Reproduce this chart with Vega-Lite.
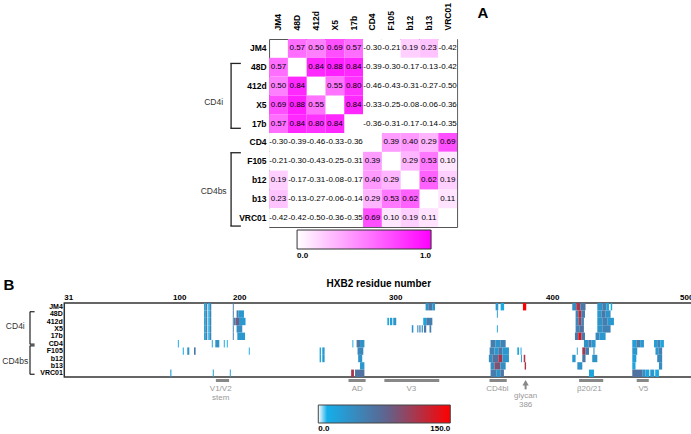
{
  "$schema": "https://vega.github.io/schema/vega-lite/v6.json",
  "padding": {"left": 1, "top": 2, "right": 0, "bottom": 0},
  "background": "#ffffff",
  "config": {
    "font": "Liberation Sans",
    "locale": {"number": {"decimal": ".", "thousands": ",", "grouping": [3], "currency": ["$", ""], "minus": "-"}},
    "axis": {"grid": false, "ticks": false, "domain": false, "labelColor": "#000000", "labelFontWeight": "bold", "labelFontSize": 8}
  },
  "center": true,
  "spacing": 15,
  "resolve": {"scale": {"color": "independent", "x": "independent", "y": "independent"}},
  "datasets": {
    "corr": [
      {"r":"JM4","c":"48D","v":0.57},{"r":"JM4","c":"412d","v":0.50},{"r":"JM4","c":"X5","v":0.69},{"r":"JM4","c":"17b","v":0.57},{"r":"JM4","c":"CD4","v":-0.30},{"r":"JM4","c":"F105","v":-0.21},{"r":"JM4","c":"b12","v":0.19},{"r":"JM4","c":"b13","v":0.23},{"r":"JM4","c":"VRC01","v":-0.42},
      {"r":"48D","c":"JM4","v":0.57},{"r":"48D","c":"412d","v":0.84},{"r":"48D","c":"X5","v":0.88},{"r":"48D","c":"17b","v":0.84},{"r":"48D","c":"CD4","v":-0.39},{"r":"48D","c":"F105","v":-0.30},{"r":"48D","c":"b12","v":-0.17},{"r":"48D","c":"b13","v":-0.13},{"r":"48D","c":"VRC01","v":-0.42},
      {"r":"412d","c":"JM4","v":0.50},{"r":"412d","c":"48D","v":0.84},{"r":"412d","c":"X5","v":0.55},{"r":"412d","c":"17b","v":0.80},{"r":"412d","c":"CD4","v":-0.46},{"r":"412d","c":"F105","v":-0.43},{"r":"412d","c":"b12","v":-0.31},{"r":"412d","c":"b13","v":-0.27},{"r":"412d","c":"VRC01","v":-0.50},
      {"r":"X5","c":"JM4","v":0.69},{"r":"X5","c":"48D","v":0.88},{"r":"X5","c":"412d","v":0.55},{"r":"X5","c":"17b","v":0.84},{"r":"X5","c":"CD4","v":-0.33},{"r":"X5","c":"F105","v":-0.25},{"r":"X5","c":"b12","v":-0.08},{"r":"X5","c":"b13","v":-0.06},{"r":"X5","c":"VRC01","v":-0.36},
      {"r":"17b","c":"JM4","v":0.57},{"r":"17b","c":"48D","v":0.84},{"r":"17b","c":"412d","v":0.80},{"r":"17b","c":"X5","v":0.84},{"r":"17b","c":"CD4","v":-0.36},{"r":"17b","c":"F105","v":-0.31},{"r":"17b","c":"b12","v":-0.17},{"r":"17b","c":"b13","v":-0.14},{"r":"17b","c":"VRC01","v":-0.35},
      {"r":"CD4","c":"JM4","v":-0.30},{"r":"CD4","c":"48D","v":-0.39},{"r":"CD4","c":"412d","v":-0.46},{"r":"CD4","c":"X5","v":-0.33},{"r":"CD4","c":"17b","v":-0.36},{"r":"CD4","c":"F105","v":0.39},{"r":"CD4","c":"b12","v":0.40},{"r":"CD4","c":"b13","v":0.29},{"r":"CD4","c":"VRC01","v":0.69},
      {"r":"F105","c":"JM4","v":-0.21},{"r":"F105","c":"48D","v":-0.30},{"r":"F105","c":"412d","v":-0.43},{"r":"F105","c":"X5","v":-0.25},{"r":"F105","c":"17b","v":-0.31},{"r":"F105","c":"CD4","v":0.39},{"r":"F105","c":"b12","v":0.29},{"r":"F105","c":"b13","v":0.53},{"r":"F105","c":"VRC01","v":0.10},
      {"r":"b12","c":"JM4","v":0.19},{"r":"b12","c":"48D","v":-0.17},{"r":"b12","c":"412d","v":-0.31},{"r":"b12","c":"X5","v":-0.08},{"r":"b12","c":"17b","v":-0.17},{"r":"b12","c":"CD4","v":0.40},{"r":"b12","c":"F105","v":0.29},{"r":"b12","c":"b13","v":0.62},{"r":"b12","c":"VRC01","v":0.19},
      {"r":"b13","c":"JM4","v":0.23},{"r":"b13","c":"48D","v":-0.13},{"r":"b13","c":"412d","v":-0.27},{"r":"b13","c":"X5","v":-0.06},{"r":"b13","c":"17b","v":-0.14},{"r":"b13","c":"CD4","v":0.29},{"r":"b13","c":"F105","v":0.53},{"r":"b13","c":"b12","v":0.62},{"r":"b13","c":"VRC01","v":0.11},
      {"r":"VRC01","c":"JM4","v":-0.42},{"r":"VRC01","c":"48D","v":-0.42},{"r":"VRC01","c":"412d","v":-0.50},{"r":"VRC01","c":"X5","v":-0.36},{"r":"VRC01","c":"17b","v":-0.35},{"r":"VRC01","c":"CD4","v":0.69},{"r":"VRC01","c":"F105","v":0.10},{"r":"VRC01","c":"b12","v":0.19},{"r":"VRC01","c":"b13","v":0.11}
    ],
    "brA": [
      {"g":"CD4i","y1":1.3,"y2":4.75,"ly":3.35},
      {"g":"CD4bs","y1":6.05,"y2":9.95,"ly":8.1}
    ],
    "brB": [
      {"g":"CD4i","y1":1.18,"y2":5.56,"ly":3.08},
      {"g":"CD4bs","y1":5.79,"y2":9.63,"ly":7.83}
    ],
    "ann": [
      {"l1":"V1/V2","s":161,"e":183,"m":169},
      {"l1":"AD","s":270,"e":281,"m":275.6},
      {"l1":"V3","s":293,"e":328,"m":310.2},
      {"l1":"CD4bl","s":360,"e":371,"m":365},
      {"l1":"β20/21","s":420,"e":438,"m":427.6},
      {"l1":"V5","s":463,"e":472,"m":467.9}
    ],
    "res": [
      {"ab":"JM4","s":141.2,"e":143.3,"v":15},{"ab":"JM4","s":143.3,"e":146.7,"v":50},{"ab":"JM4","s":148.3,"e":150.8,"v":15},{"ab":"JM4","s":150.8,"e":153.3,"v":50},{"ab":"JM4","s":189.2,"e":190.8,"v":55},
      {"ab":"48D","s":141.2,"e":143.3,"v":15},{"ab":"48D","s":143.3,"e":146.7,"v":50},{"ab":"48D","s":148.3,"e":150.8,"v":15},{"ab":"48D","s":150.8,"e":153.3,"v":50},{"ab":"48D","s":189.2,"e":190.8,"v":55},
      {"ab":"412d","s":141.2,"e":143.3,"v":15},{"ab":"412d","s":143.3,"e":146.7,"v":50},{"ab":"412d","s":148.3,"e":150.8,"v":15},{"ab":"412d","s":150.8,"e":153.3,"v":50},{"ab":"412d","s":189.2,"e":190.8,"v":55},
      {"ab":"X5","s":141.2,"e":143.3,"v":15},{"ab":"X5","s":143.3,"e":146.7,"v":50},{"ab":"X5","s":148.3,"e":150.8,"v":15},{"ab":"X5","s":150.8,"e":153.3,"v":50},{"ab":"X5","s":189.2,"e":190.8,"v":55},
      {"ab":"17b","s":141.2,"e":143.3,"v":15},{"ab":"17b","s":143.3,"e":146.7,"v":50},{"ab":"17b","s":148.3,"e":150.8,"v":15},{"ab":"17b","s":150.8,"e":153.3,"v":50},{"ab":"17b","s":189.2,"e":190.8,"v":55},
      {"ab":"JM4","s":319.3,"e":321.0,"v":35},{"ab":"JM4","s":321.0,"e":323.6,"v":60},{"ab":"JM4","s":323.6,"e":325.3,"v":30},{"ab":"JM4","s":363.9,"e":365.6,"v":30},{"ab":"JM4","s":367.1,"e":369.3,"v":15},{"ab":"JM4","s":381.3,"e":383.4,"v":150},{"ab":"JM4","s":414.9,"e":417.9,"v":40},{"ab":"JM4","s":417.9,"e":420.9,"v":110},{"ab":"JM4","s":420.9,"e":424.8,"v":60},{"ab":"JM4","s":433.6,"e":437.3,"v":35},{"ab":"JM4","s":437.3,"e":440.3,"v":55},{"ab":"JM4","s":440.3,"e":442.3,"v":20},{"ab":"JM4","s":443.6,"e":444.7,"v":15},
      {"ab":"48D","s":195.5,"e":198.3,"v":60},{"ab":"48D","s":198.3,"e":203.0,"v":30},{"ab":"48D","s":364.7,"e":365.3,"v":30},{"ab":"48D","s":417.4,"e":419.4,"v":50},{"ab":"48D","s":419.4,"e":421.6,"v":120},{"ab":"48D","s":421.6,"e":424.4,"v":55},{"ab":"48D","s":433.6,"e":436.6,"v":30},{"ab":"48D","s":436.6,"e":439.5,"v":60},{"ab":"48D","s":439.5,"e":443.5,"v":35},
      {"ab":"412d","s":191.2,"e":193.8,"v":50},{"ab":"412d","s":193.8,"e":199.5,"v":85},{"ab":"412d","s":199.5,"e":204.0,"v":30},{"ab":"412d","s":294.9,"e":296.0,"v":15},{"ab":"412d","s":296.6,"e":298.1,"v":25},{"ab":"412d","s":298.7,"e":300.6,"v":35},{"ab":"412d","s":317.8,"e":319.7,"v":20},{"ab":"412d","s":319.7,"e":323.6,"v":55},{"ab":"412d","s":417.4,"e":419.4,"v":45},{"ab":"412d","s":419.4,"e":421.6,"v":100},{"ab":"412d","s":421.6,"e":423.6,"v":50},{"ab":"412d","s":433.6,"e":437.3,"v":35},{"ab":"412d","s":437.3,"e":441.0,"v":55},{"ab":"412d","s":441.0,"e":446.0,"v":30},
      {"ab":"X5","s":195.5,"e":201.9,"v":40},{"ab":"X5","s":310.5,"e":311.5,"v":35},{"ab":"X5","s":314.0,"e":314.7,"v":40},{"ab":"X5","s":315.3,"e":316.1,"v":55},{"ab":"X5","s":316.8,"e":317.6,"v":30},{"ab":"X5","s":318.3,"e":319.7,"v":60},{"ab":"X5","s":321.8,"e":322.9,"v":55},{"ab":"X5","s":364.7,"e":365.3,"v":25},{"ab":"X5","s":417.4,"e":420.1,"v":50},{"ab":"X5","s":420.1,"e":423.6,"v":65},{"ab":"X5","s":433.6,"e":437.3,"v":35},{"ab":"X5","s":437.3,"e":443.5,"v":50},
      {"ab":"17b","s":196.7,"e":203.7,"v":30},{"ab":"17b","s":416.9,"e":419.4,"v":60},{"ab":"17b","s":419.4,"e":421.6,"v":140},{"ab":"17b","s":421.6,"e":424.4,"v":60},{"ab":"17b","s":432.3,"e":435.1,"v":45},{"ab":"17b","s":435.1,"e":439.8,"v":30},
      {"ab":"CD4","s":99.1,"e":99.7,"v":12},{"ab":"CD4","s":154.2,"e":155.8,"v":20},{"ab":"CD4","s":160.0,"e":166.7,"v":35},{"ab":"CD4","s":174.2,"e":175.8,"v":15},{"ab":"CD4","s":179.2,"e":180.8,"v":12},{"ab":"CD4","s":272.5,"e":273.1,"v":15},{"ab":"CD4","s":275.2,"e":277.4,"v":60},{"ab":"CD4","s":277.4,"e":280.2,"v":35},{"ab":"CD4","s":360.7,"e":363.7,"v":55},{"ab":"CD4","s":363.7,"e":366.9,"v":35},{"ab":"CD4","s":366.9,"e":370.3,"v":50},{"ab":"CD4","s":423.6,"e":426.9,"v":35},{"ab":"CD4","s":426.9,"e":429.1,"v":55},{"ab":"CD4","s":429.1,"e":432.3,"v":30},{"ab":"CD4","s":459.7,"e":462.7,"v":25},{"ab":"CD4","s":462.7,"e":465.6,"v":55},{"ab":"CD4","s":465.6,"e":468.4,"v":30},{"ab":"CD4","s":475.9,"e":478.3,"v":25},{"ab":"CD4","s":478.3,"e":480.6,"v":50},{"ab":"CD4","s":480.6,"e":483.3,"v":20},
      {"ab":"F105","s":105.8,"e":107.5,"v":15},{"ab":"F105","s":113.3,"e":116.7,"v":35},{"ab":"F105","s":124.5,"e":127.2,"v":60},{"ab":"F105","s":206.1,"e":206.7,"v":15},{"ab":"F105","s":251.5,"e":252.4,"v":15},{"ab":"F105","s":253.2,"e":254.7,"v":30},{"ab":"F105","s":275.8,"e":279.5,"v":45},{"ab":"F105","s":360.1,"e":363.1,"v":50},{"ab":"F105","s":363.1,"e":365.6,"v":30},{"ab":"F105","s":365.6,"e":368.2,"v":60},{"ab":"F105","s":368.2,"e":372.4,"v":30},{"ab":"F105","s":377.7,"e":378.8,"v":15},{"ab":"F105","s":379.8,"e":380.4,"v":25},{"ab":"F105","s":418.3,"e":419.0,"v":30},{"ab":"F105","s":422.4,"e":424.6,"v":110},{"ab":"F105","s":424.6,"e":427.4,"v":55},{"ab":"F105","s":430.7,"e":431.5,"v":40},{"ab":"F105","s":459.7,"e":463.4,"v":30},{"ab":"F105","s":477.0,"e":479.1,"v":30},{"ab":"F105","s":479.1,"e":482.0,"v":50},
      {"ab":"b12","s":251.5,"e":252.4,"v":15},{"ab":"b12","s":253.2,"e":254.7,"v":30},{"ab":"b12","s":276.2,"e":278.8,"v":35},{"ab":"b12","s":359.6,"e":361.8,"v":40},{"ab":"b12","s":361.8,"e":365.6,"v":65},{"ab":"b12","s":365.6,"e":368.2,"v":110},{"ab":"b12","s":368.2,"e":372.4,"v":35},{"ab":"b12","s":380.1,"e":380.7,"v":20},{"ab":"b12","s":381.8,"e":382.8,"v":110},{"ab":"b12","s":414.9,"e":417.4,"v":30},{"ab":"b12","s":422.4,"e":424.8,"v":60},{"ab":"b12","s":429.8,"e":433.6,"v":35},{"ab":"b12","s":459.7,"e":462.7,"v":25},{"ab":"b12","s":478.3,"e":482.0,"v":45},
      {"ab":"b13","s":277.4,"e":280.2,"v":30},{"ab":"b13","s":360.7,"e":363.1,"v":40},{"ab":"b13","s":363.1,"e":366.9,"v":90},{"ab":"b13","s":366.9,"e":370.3,"v":40},{"ab":"b13","s":382.4,"e":383.3,"v":110},{"ab":"b13","s":418.7,"e":422.4,"v":35},{"ab":"b13","s":459.7,"e":462.1,"v":20},{"ab":"b13","s":479.6,"e":482.0,"v":40},
      {"ab":"VRC01","s":94.4,"e":95.1,"v":25},{"ab":"VRC01","s":155.8,"e":157.5,"v":25},{"ab":"VRC01","s":184.2,"e":185.8,"v":25},{"ab":"VRC01","s":271.7,"e":273.5,"v":110},{"ab":"VRC01","s":274.2,"e":280.2,"v":65},{"ab":"VRC01","s":360.7,"e":364.3,"v":55},{"ab":"VRC01","s":364.3,"e":366.9,"v":35},{"ab":"VRC01","s":366.9,"e":369.2,"v":60},{"ab":"VRC01","s":427.4,"e":431.1,"v":20},{"ab":"VRC01","s":459.7,"e":467.1,"v":65},{"ab":"VRC01","s":467.1,"e":469.6,"v":40},{"ab":"VRC01","s":469.6,"e":472.4,"v":20},{"ab":"VRC01","s":473.1,"e":476.1,"v":30},{"ab":"VRC01","s":476.8,"e":479.6,"v":15}
    ]
  },
  "vconcat": [
    {
      "width": 188,
      "height": 188,
      "view": {"stroke": "#555555", "strokeWidth": 1},
      "resolve": {"scale": {"x": "independent", "y": "independent"}},
      "layer": [
        {
          "data": {"name": "corr"},
          "encoding": {
            "x": {"field": "c", "type": "nominal", "scale": {"domain": ["JM4","48D","412d","X5","17b","CD4","F105","b12","b13","VRC01"], "paddingInner": 0, "paddingOuter": 0}, "axis": {"orient": "top", "labelAngle": -90, "labelPadding": 9, "labelFontSize": 8.5, "title": null}},
            "y": {"field": "r", "type": "nominal", "scale": {"domain": ["JM4","48D","412d","X5","17b","CD4","F105","b12","b13","VRC01"], "paddingInner": 0, "paddingOuter": 0}, "axis": {"labelPadding": 3, "labelFontSize": 8.5, "title": null}}
          },
          "layer": [
            {
              "mark": {"type": "rect"},
              "encoding": {
                "color": {
                  "field": "v", "type": "quantitative",
                  "scale": {"domain": [0, 1], "range": ["#ffffff", "#ff00ff"], "clamp": true, "interpolate": "rgb"},
                  "legend": {"orient": "none", "legendX": 28, "legendY": 191, "direction": "horizontal", "gradientLength": 134, "gradientThickness": 19, "title": null, "values": [0, 1], "format": ".1f", "labelFontWeight": "bold", "labelFontSize": 8, "labelColor": "#000000", "labelAlign": "center", "labelOffset": 3, "gradientStrokeColor": "#333333", "gradientStrokeWidth": 1}
                }
              }
            },
            {
              "mark": {"type": "text", "fontSize": 8, "color": "#000000"},
              "encoding": {
                "text": {"field": "v", "type": "quantitative", "format": ".2f"}
              }
            }
          ]
        },
        {
          "data": {"name": "brA"},
          "layer": [
            {
              "mark": {"type": "rule", "color": "#222222", "strokeWidth": 1.3},
              "encoding": {
                "x": {"datum": -2.02, "type": "quantitative", "scale": {"domain": [0, 10], "nice": false, "zero": false}, "axis": null},
                "y": {"field": "y1", "type": "quantitative", "scale": {"domain": [0, 10], "reverse": true, "nice": false, "zero": false}, "axis": null},
                "y2": {"field": "y2"}
              }
            },
            {
              "mark": {"type": "rule", "color": "#222222", "strokeWidth": 1.3},
              "encoding": {
                "x": {"datum": -2.06, "type": "quantitative"},
                "x2": {"datum": -1.5},
                "y": {"field": "y1", "type": "quantitative"}
              }
            },
            {
              "mark": {"type": "rule", "color": "#222222", "strokeWidth": 1.3},
              "encoding": {
                "x": {"datum": -2.06, "type": "quantitative"},
                "x2": {"datum": -1.5},
                "y": {"field": "y2", "type": "quantitative"}
              }
            },
            {
              "mark": {"type": "text", "fontSize": 8.5, "color": "#333333"},
              "encoding": {
                "x": {"datum": -2.95, "type": "quantitative"},
                "y": {"field": "ly", "type": "quantitative"},
                "text": {"field": "g"}
              }
            }
          ]
        },
        {
          "data": {"values": [{"t": "A"}]},
          "mark": {"type": "text", "fontSize": 15, "fontWeight": "bold", "color": "#000000"},
          "encoding": {
            "x": {"datum": 11.38, "type": "quantitative", "scale": {"domain": [0, 10], "nice": false, "zero": false}, "axis": null},
            "y": {"datum": -1.4, "type": "quantitative", "scale": {"domain": [0, 10], "reverse": true, "nice": false, "zero": false}, "axis": null},
            "text": {"field": "t"}
          }
        }
      ]
    },
    {
      "width": 628,
      "height": 74,
      "view": {"stroke": "#333333", "strokeWidth": 1.5},
      "resolve": {"scale": {"x": "independent", "y": "independent"}},
      "layer": [
        {
          "data": {"name": "res"},
          "mark": {"type": "rect"},
          "encoding": {
            "x": {"field": "s", "type": "quantitative", "scale": {"type": "linear", "domain": [28.5, 100, 200, 300, 400, 500, 504.5], "range": [0, 115, 175, 331, 488, 622, 628], "nice": false, "zero": false}, "axis": {"orient": "top", "values": [31, 100, 200, 300, 400, 500], "format": "d", "labelFlush": false, "labelPadding": 2, "title": "HXB2 residue number", "titleFontSize": 10, "titleFontWeight": "bold", "titlePadding": 5, "titleColor": "#000000"}},
            "x2": {"field": "e"},
            "y": {"field": "ab", "type": "nominal", "scale": {"domain": ["JM4","48D","412d","X5","17b","CD4","F105","b12","b13","VRC01"], "paddingInner": 0, "paddingOuter": 0}, "axis": {"labelPadding": 2, "labelFontSize": 7, "title": null}},
            "color": {
              "field": "v", "type": "quantitative",
              "scale": {"domain": [0, 8, 8.5, 75, 150], "range": ["#ffffff", "#ffffff", "#12b0ec", "#5b6792", "#ff0000"], "interpolate": "rgb"},
              "legend": {"orient": "none", "legendX": 254, "legendY": 102, "direction": "horizontal", "gradientLength": 132, "gradientThickness": 18, "title": null, "values": [0, 150], "format": ".1f", "labelFontWeight": "bold", "labelFontSize": 8, "labelColor": "#000000", "labelAlign": "center", "labelOffset": 2, "gradientStrokeColor": "#444444", "gradientStrokeWidth": 1}
            }
          }
        },
        {
          "data": {"name": "ann"},
          "mark": {"type": "rule", "color": "#888888", "strokeWidth": 3},
          "encoding": {
            "x": {"field": "s", "type": "quantitative", "scale": {"type": "linear", "domain": [28.5, 100, 200, 300, 400, 500, 504.5], "range": [0, 115, 175, 331, 488, 622, 628], "nice": false, "zero": false}, "axis": null},
            "x2": {"field": "e"},
            "y": {"datum": 10.47, "type": "quantitative", "scale": {"domain": [0, 10], "reverse": true, "nice": false, "zero": false}, "axis": null}
          }
        },
        {
          "data": {"name": "ann"},
          "mark": {"type": "text", "fontSize": 8, "color": "#999999"},
          "encoding": {
            "x": {"field": "m", "type": "quantitative", "scale": {"type": "linear", "domain": [28.5, 100, 200, 300, 400, 500, 504.5], "range": [0, 115, 175, 331, 488, 622, 628], "nice": false, "zero": false}, "axis": null},
            "y": {"datum": 11.63, "type": "quantitative", "scale": {"domain": [0, 10], "reverse": true, "nice": false, "zero": false}, "axis": null},
            "text": {"field": "l1"}
          }
        },
        {
          "data": {"values": [{"m": 169, "t": "stem"}]},
          "mark": {"type": "text", "fontSize": 8, "color": "#999999"},
          "encoding": {
            "x": {"field": "m", "type": "quantitative", "scale": {"type": "linear", "domain": [28.5, 100, 200, 300, 400, 500, 504.5], "range": [0, 115, 175, 331, 488, 622, 628], "nice": false, "zero": false}, "axis": null},
            "y": {"datum": 12.81, "type": "quantitative", "scale": {"domain": [0, 10], "reverse": true, "nice": false, "zero": false}, "axis": null},
            "text": {"field": "t"}
          }
        },
        {
          "data": {"values": [{"m": 383}]},
          "mark": {"type": "point", "shape": "triangle-up", "filled": true, "color": "#888888", "size": 40, "opacity": 1},
          "encoding": {
            "x": {"field": "m", "type": "quantitative", "scale": {"type": "linear", "domain": [28.5, 100, 200, 300, 400, 500, 504.5], "range": [0, 115, 175, 331, 488, 622, 628], "nice": false, "zero": false}, "axis": null},
            "y": {"datum": 10.79, "type": "quantitative", "scale": {"domain": [0, 10], "reverse": true, "nice": false, "zero": false}, "axis": null}
          }
        },
        {
          "data": {"values": [{"m": 383}]},
          "mark": {"type": "rule", "color": "#888888", "strokeWidth": 2},
          "encoding": {
            "x": {"field": "m", "type": "quantitative", "scale": {"type": "linear", "domain": [28.5, 100, 200, 300, 400, 500, 504.5], "range": [0, 115, 175, 331, 488, 622, 628], "nice": false, "zero": false}, "axis": null},
            "y": {"datum": 11.0, "type": "quantitative", "scale": {"domain": [0, 10], "reverse": true, "nice": false, "zero": false}, "axis": null},
            "y2": {"datum": 11.67}
          }
        },
        {
          "data": {"values": [{"m": 383, "t": "glycan"}]},
          "mark": {"type": "text", "fontSize": 8, "color": "#999999"},
          "encoding": {
            "x": {"field": "m", "type": "quantitative", "scale": {"type": "linear", "domain": [28.5, 100, 200, 300, 400, 500, 504.5], "range": [0, 115, 175, 331, 488, 622, 628], "nice": false, "zero": false}, "axis": null},
            "y": {"datum": 12.58, "type": "quantitative", "scale": {"domain": [0, 10], "reverse": true, "nice": false, "zero": false}, "axis": null},
            "text": {"field": "t"}
          }
        },
        {
          "data": {"values": [{"m": 383, "t": "386"}]},
          "mark": {"type": "text", "fontSize": 8, "color": "#999999"},
          "encoding": {
            "x": {"field": "m", "type": "quantitative", "scale": {"type": "linear", "domain": [28.5, 100, 200, 300, 400, 500, 504.5], "range": [0, 115, 175, 331, 488, 622, 628], "nice": false, "zero": false}, "axis": null},
            "y": {"datum": 13.8, "type": "quantitative", "scale": {"domain": [0, 10], "reverse": true, "nice": false, "zero": false}, "axis": null},
            "text": {"field": "t"}
          }
        },
        {
          "data": {"name": "brB"},
          "layer": [
            {
              "mark": {"type": "rule", "color": "#222222", "strokeWidth": 1.2},
              "encoding": {
                "x": {"datum": -5.46, "type": "quantitative", "scale": {"domain": [0, 100], "nice": false, "zero": false}, "axis": null},
                "y": {"field": "y1", "type": "quantitative", "scale": {"domain": [0, 10], "reverse": true, "nice": false, "zero": false}, "axis": null},
                "y2": {"field": "y2"}
              }
            },
            {
              "mark": {"type": "rule", "color": "#222222", "strokeWidth": 1.2},
              "encoding": {
                "x": {"datum": -5.48, "type": "quantitative"},
                "x2": {"datum": -4.73},
                "y": {"field": "y1", "type": "quantitative"}
              }
            },
            {
              "mark": {"type": "rule", "color": "#222222", "strokeWidth": 1.2},
              "encoding": {
                "x": {"datum": -5.48, "type": "quantitative"},
                "x2": {"datum": -4.73},
                "y": {"field": "y2", "type": "quantitative"}
              }
            },
            {
              "mark": {"type": "text", "fontSize": 8.5, "color": "#333333"},
              "encoding": {
                "x": {"datum": -7.8, "type": "quantitative"},
                "y": {"field": "ly", "type": "quantitative"},
                "text": {"field": "g"}
              }
            }
          ]
        },
        {
          "data": {"values": [{"t": "B"}]},
          "mark": {"type": "text", "fontSize": 15, "fontWeight": "bold", "color": "#000000"},
          "encoding": {
            "x": {"datum": -8.8, "type": "quantitative", "scale": {"domain": [0, 100], "nice": false, "zero": false}, "axis": null},
            "y": {"datum": -2.48, "type": "quantitative", "scale": {"domain": [0, 10], "reverse": true, "nice": false, "zero": false}, "axis": null},
            "text": {"field": "t"}
          }
        }
      ]
    }
  ]
}
